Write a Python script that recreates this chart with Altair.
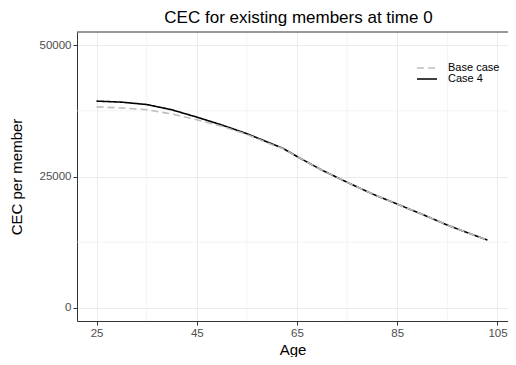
import altair as alt
import pandas as pd

ages = [25, 30, 35, 40, 45, 50, 55, 60, 62, 65, 70, 75, 80, 85, 90, 95, 100, 103]
case4 = [39350, 39150, 38700, 37700, 36300, 34800, 33150, 31200, 30450, 28800,
         26200, 23900, 21700, 19750, 17800, 15750, 13950, 12900]
base_case = [38250, 38050, 37700, 36900, 35800, 34550, 33000, 31050, 30400, 28800,
             26200, 23900, 21700, 19750, 17800, 15750, 13950, 12900]
series_names = ["Base case", "Case 4"]
x_ticks = [25, 45, 65, 85, 105]
x_minor = [35, 55, 75, 95]
y_ticks = [0, 25000, 50000]
y_minor = [12500, 37500]

rows = []
for a, v in zip(ages, base_case):
    rows.append({"Age": a, "CEC": v, "Series": "Base case"})
for a, v in zip(ages, case4):
    rows.append({"Age": a, "CEC": v, "Series": "Case 4"})
df = pd.DataFrame(rows)

FONT = "Liberation Sans"
xscale = alt.Scale(domain=[21.1, 107.1], nice=False, zero=False)
yscale = alt.Scale(domain=[-2500, 52500], nice=False, zero=False)

legend = alt.Legend(
    title=None, orient="none", legendX=344, legendY=30,
    symbolType="M-2,0H2", symbolSize=100, symbolStrokeWidth=1.6,
    labelFontSize=11, labelFont=FONT, labelColor="black", labelOffset=15,
    rowPadding=-5, padding=0,
)
color = alt.Color("Series:N", scale=alt.Scale(domain=series_names, range=["#BEBEBE", "#000000"]), legend=legend)
dash = alt.StrokeDash("Series:N", scale=alt.Scale(domain=series_names, range=[[7, 4], [1, 0]]), legend=legend)

xaxis = alt.Axis(values=x_ticks, title="Age", grid=True)
yaxis = alt.Axis(values=y_ticks, title="CEC per member", grid=True, format="d")

minor_x = alt.Chart(pd.DataFrame({"v": x_minor})).mark_rule(color="#EBEBEB", strokeWidth=0.6).encode(
    x=alt.X("v:Q", scale=xscale, axis=xaxis))
minor_y = alt.Chart(pd.DataFrame({"v": y_minor})).mark_rule(color="#EBEBEB", strokeWidth=0.6).encode(
    y=alt.Y("v:Q", scale=yscale, axis=yaxis))
top_border = alt.Chart(pd.DataFrame({"v": [52500]})).mark_rule(color="#333333", strokeWidth=1).encode(
    y=alt.Y("v:Q", scale=yscale, axis=yaxis))

def line_layer(name):
    return alt.Chart(df).transform_filter(alt.datum.Series == name).mark_line(strokeWidth=1.6).encode(
        x=alt.X("Age:Q", scale=xscale, axis=xaxis),
        y=alt.Y("CEC:Q", scale=yscale, axis=yaxis),
        color=color, strokeDash=dash,
    )

chart = alt.layer(minor_x, minor_y, line_layer("Case 4"), line_layer("Base case"), top_border).properties(
    width=431, height=289,
    autosize=alt.AutoSizeParams(type="none"),
    padding={"left": 69, "top": 24, "right": 0, "bottom": 36},
    title=alt.Title("CEC for existing members at time 0", fontSize=17, font=FONT,
                    fontWeight="normal", color="black", anchor="middle", offset=9,
                    baseline="bottom", dx=6, dy=21),
).configure_view(strokeWidth=0, stroke="transparent").configure_axis(
    gridColor="#EBEBEB", gridWidth=1, domainColor="#333333", domainWidth=1,
    tickColor="#333333", tickSize=4, tickWidth=1,
    labelColor="#4D4D4D", labelFontSize=11.5, labelFont=FONT, labelPadding=2,
    titleFont=FONT, titleFontSize=15, titleFontWeight="normal", titleColor="black",
).configure_axisX(titlePadding=4).configure_axisY(titlePadding=15)

chart.save("out.html", embed_options={"renderer": "svg", "actions": False})
